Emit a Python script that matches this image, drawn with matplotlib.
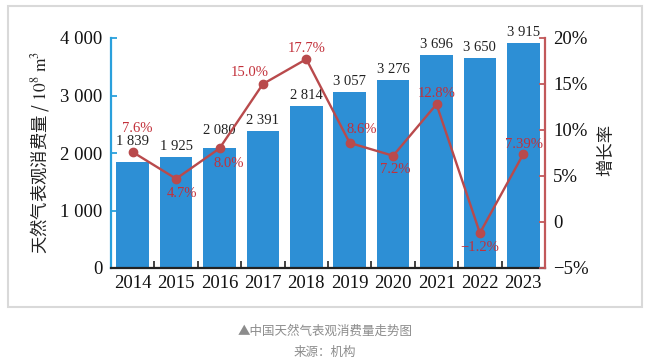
import matplotlib
matplotlib.use('Agg')
import matplotlib.pyplot as plt
from matplotlib.patches import Rectangle

# ---- data ----
years = ['2014', '2015', '2016', '2017', '2018', '2019', '2020', '2021', '2022', '2023']
consumption = [1839, 1925, 2080, 2391, 2814, 3057, 3276, 3696, 3650, 3915]
consumption_labels = ['1 839', '1 925', '2 080', '2 391', '2 814', '3 057', '3 276', '3 696', '3 650', '3 915']
growth = [7.6, 4.7, 8.0, 15.0, 17.7, 8.6, 7.2, 12.8, -1.2, 7.39]
growth_labels = ['7.6%', '4.7%', '8.0%', '15.0%', '17.7%', '8.6%', '7.2%', '12.8%', '\u22121.2%', '7.39%']
left_ticks = [0, 1000, 2000, 3000, 4000]
left_ticklabels = ['0', '1 000', '2 000', '3 000', '4 000']
right_ticks = [-5, 0, 5, 10, 15, 20]
right_ticklabels = ['\u22125%', '0', '5%', '10%', '15%', '20%']
left_label = '天然气表观消费量 / $10^8\\ \\mathrm{m}^3$'
right_label = '增长率'
caption = '▲中国天然气表观消费量走势图'
source = '来源：机构'

# ---- style ----
plt.rcParams['mathtext.fontset'] = 'stix'
serif = 'Liberation Serif'
cjk = ['Noto Sans CJK SC', 'DejaVu Sans']
bar_color = '#2d8fd5'
line_color = '#b94a4c'
label_red = '#c2303a'
left_spine = '#2aa0dc'
right_spine = '#c2585a'
PX = 0.72  # px -> points at 100 dpi

fig = plt.figure(figsize=(6.5, 3.61), dpi=100)
fig.patches.append(Rectangle((8 / 650, 1 - 307 / 361), 634 / 650, 301 / 361,
                             transform=fig.transFigure, fill=False,
                             edgecolor='#d9d9d9', linewidth=1.5))

ax = fig.add_axes([111 / 650, 1 - 268 / 361, 434 / 650, 230 / 361])
x = list(range(len(years)))
ax.bar(x, consumption, width=0.75, color=bar_color, zorder=2)
ax.set_xlim(-0.5, len(years) - 0.5)
ax.set_ylim(0, 4000)

bar_offsets = [14, 4, 11, 4, 4, 4, 4, 4, 4, 4]
for xi, v, lab, off in zip(x, consumption, consumption_labels, bar_offsets):
    ax.annotate(lab, (xi, v), xytext=(0, off * PX), textcoords='offset points',
                ha='center', va='bottom', fontsize=10.5, family=serif, color='#222222')

ax.set_xticks(x)
ax.set_xticklabels(years, fontsize=13.5, family=serif, color='#111111')
ax.tick_params(axis='x', which='major', length=0, pad=5)
ax.set_xticks([i + 0.5 for i in x[:-1]], minor=True)
ax.tick_params(axis='x', which='minor', direction='in', length=5, width=1.2, color='#222222')

ax.set_yticks(left_ticks)
ax.set_yticklabels(left_ticklabels, fontsize=13.5, family=serif, color='#111111')
ax.tick_params(axis='y', direction='in', length=4, width=1.3, color=left_spine, pad=6)

for s in ['top', 'right']:
    ax.spines[s].set_visible(False)
ax.spines['left'].set_color(left_spine)
ax.spines['left'].set_linewidth(1.6)
ax.spines['bottom'].set_color('#222222')
ax.spines['bottom'].set_linewidth(1.6)

ax2 = ax.twinx()
ax2.set_ylim(-5, 20)
ax2.plot(x, growth, color=line_color, lw=1.7, marker='o', ms=6, zorder=3)
for s in ['top', 'left', 'bottom']:
    ax2.spines[s].set_visible(False)
ax2.spines['right'].set_color(right_spine)
ax2.spines['right'].set_linewidth(1.6)
ax2.set_yticks(right_ticks)
ax2.set_yticklabels(right_ticklabels, fontsize=13.5, family=serif, color='#111111')
ax2.tick_params(axis='y', direction='in', length=4, width=1.3, color=right_spine, pad=6)

growth_offsets = [(5, 24), (6, -15), (9, -15), (-13, 12), (0, 11),
                  (12, 13), (2, -14), (0, 11), (0, -14), (1, 10)]
for xi, v, lab, (dx, dy) in zip(x, growth, growth_labels, growth_offsets):
    ax2.annotate(lab, (xi, v), xytext=(dx * PX, dy * PX), textcoords='offset points',
                 ha='center', va='center', fontsize=10.5, family=serif, color=label_red)

fig.text(40 / 650, 1 - 152 / 361, left_label, rotation=90, ha='center', va='center',
         fontsize=12.5, family=cjk, color='#222222')
fig.text(606 / 650, 1 - 150 / 361, right_label, rotation=90, ha='center', va='center',
         fontsize=12.5, family=cjk, color='#222222')
fig.text(325 / 650, 1 - 331 / 361, caption, ha='center', va='center',
         fontsize=9, family=cjk, color='#8c8c8c')
fig.text(325 / 650, 1 - 352 / 361, source, ha='center', va='center',
         fontsize=9, family=cjk, color='#8c8c8c')

fig.savefig('out.png', dpi=100)
